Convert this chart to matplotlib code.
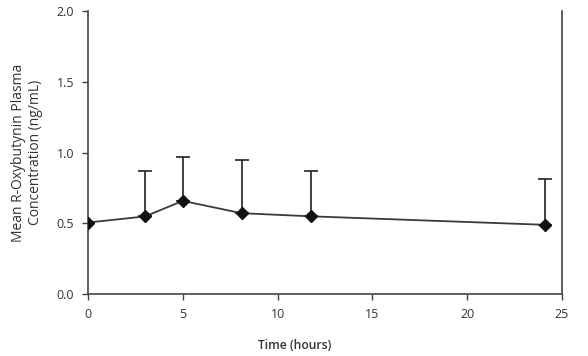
import numpy as np
import matplotlib.pyplot as plt

plt.rcParams['font.family'] = ['Open Sans', 'DejaVu Sans']

# datos
time_h = [0, 3, 5, 8.1, 11.75, 24.1]
conc = [0.505, 0.548, 0.658, 0.571, 0.549, 0.489]
sd_up = [0.0, 0.322, 0.308, 0.379, 0.321, 0.321]

fig = plt.figure(figsize=(5.88, 3.56), dpi=100)
ax = fig.add_axes([88/588, 1-294/356, (562-88)/588, (294-11)/356])

ax.errorbar(time_h, conc, yerr=[np.zeros(len(sd_up)), sd_up], fmt="none",
            ecolor="#222222", elinewidth=1.2, capsize=5, capthick=1.2, zorder=2)
ax.plot(time_h, conc, "-", color="#3a3a3a", linewidth=1.3, zorder=3)
ax.plot(time_h, conc, "D", color="#111111", markersize=6.5, zorder=4)

ax.set_xlim(0, 25)
ax.set_ylim(0, 2.0)
ax.set_xticks([0, 5, 10, 15, 20, 25])
ax.set_yticks([0, 0.5, 1.0, 1.5, 2.0])
ax.set_yticklabels(["0.0", "0.5", "1.0", "1.5", "2.0"])
ax.spines["top"].set_visible(False)
for s in ["left", "right", "bottom"]:
    ax.spines[s].set_color("#444444")
    ax.spines[s].set_linewidth(1.2)
ax.tick_params(direction="out", length=4, width=1, color="#444444",
               labelsize=9, labelcolor="#333333", pad=6)

ax.set_xlabel("Time (hours)", fontsize=8.7, color="#333333",
              fontweight="semibold")
ax.xaxis.set_label_coords(0.435, -0.16)
ax.set_ylabel("Mean R-Oxybutynin Plasma\nConcentration (ng/mL)", fontsize=10,
              color="#333333", labelpad=10)

fig.savefig("out.png", dpi=100)
